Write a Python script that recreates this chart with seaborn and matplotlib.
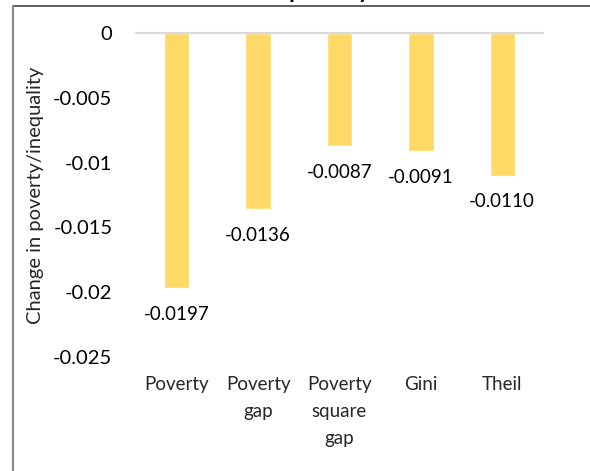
import matplotlib
matplotlib.use("Agg")
import matplotlib.pyplot as plt
from matplotlib.lines import Line2D
import pandas as pd
import seaborn as sns

categories = ["Poverty", "Poverty\ngap", "Poverty\nsquare\ngap", "Gini", "Theil"]
changes = [-0.0197, -0.0136, -0.0087, -0.0091, -0.0110]
value_labels = ["-0.0197", "-0.0136", "-0.0087", "-0.0091", "-0.0110"]
y_ticks = [0, -0.005, -0.01, -0.015, -0.02, -0.025]
y_tick_labels = ["0", "-0.005", "-0.01", "-0.015", "-0.02", "-0.025"]

sns.set_theme(style="white")
plt.rcParams["font.family"] = ["Lato", "DejaVu Sans"]

W, H = 590, 471
fig = plt.figure(figsize=(W / 100, H / 100), dpi=100)
ax = fig.add_axes([136 / W, 1 - 357 / H, 407 / W, 324 / H])

df = pd.DataFrame({"measure": categories, "change": changes})
sns.barplot(data=df, x="measure", y="change", color="#FFD966", saturation=1,
            width=0.31, ax=ax)

ax.set_ylim(-0.025, 0)
ax.set_xlim(-0.5, len(categories) - 0.5)
ax.set_yticks(y_ticks)
ax.set_yticklabels(y_tick_labels, fontsize=14.5, color="black")
ax.tick_params(axis="y", length=0, pad=17)
ax.tick_params(axis="x", length=0, pad=14)
for lbl in ax.get_xticklabels():
    lbl.set_fontsize(13.5)
    lbl.set_linespacing(1.7)
    lbl.set_va("top")
ax.set_xlabel("")
ax.set_ylabel("Change in poverty/inequality", fontsize=14.5)
ax.yaxis.set_label_coords(-(136 - 44) / 407, 0.5)

for s in ["left", "right", "bottom", "top"]:
    ax.spines[s].set_visible(False)
ax.axhline(0, color="#D9D9D9", lw=1.6, zorder=3, clip_on=False)
ax.grid(False)

for i, (v, t) in enumerate(zip(changes, value_labels)):
    ax.annotate(t, xy=(i, v), xytext=(0, -19), textcoords="offset points",
                ha="center", va="center", fontsize=13.5, color="black")

# chart-area border
fig.add_artist(Line2D([13 / W, 1], [1 - 6 / H, 1 - 6 / H], color="#404040", lw=1.2))
fig.add_artist(Line2D([13 / W, 13 / W], [0, 1 - 6 / H], color="#8C8C8C", lw=1.6))
fig.text(289 / W, 1 + 2 / H, "poverty", fontsize=17, fontweight="bold",
         ha="left", va="baseline", color="black")

fig.savefig("out.png", dpi=100)
